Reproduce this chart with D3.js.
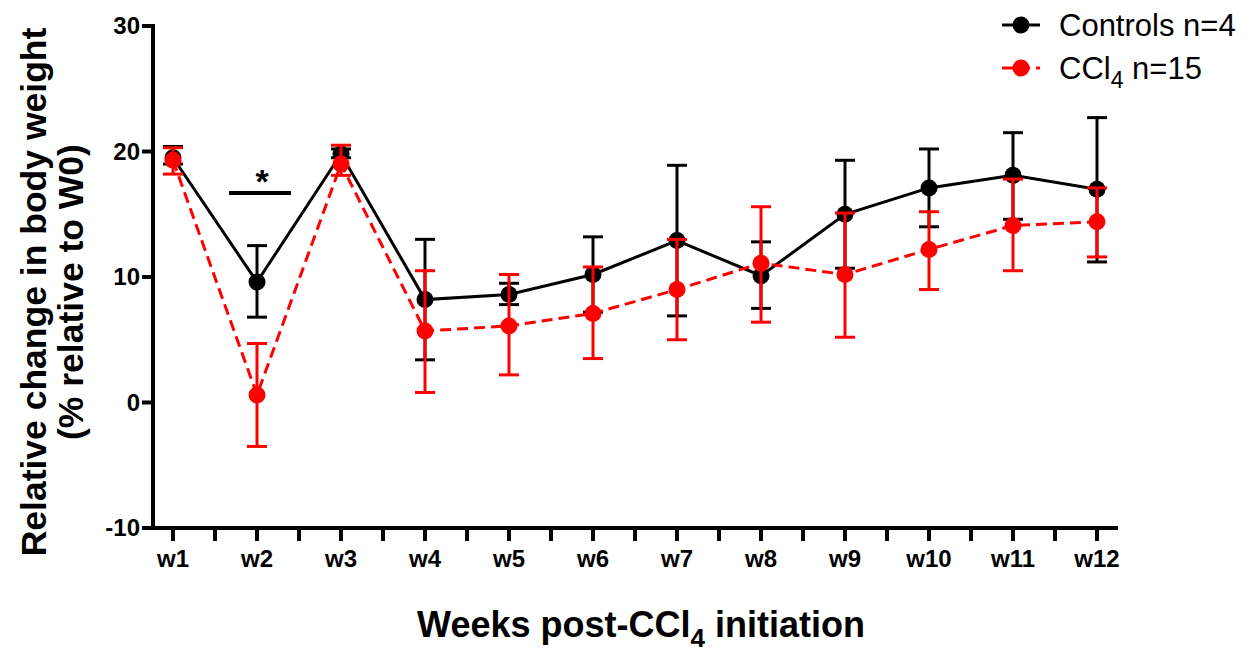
<!DOCTYPE html>
<html>
<head>
<meta charset="utf-8">
<script src="https://cdn.jsdelivr.net/npm/d3@7"></script>
<style>
  body { margin: 0; background: #fff; }
  text { font-family: "Liberation Sans", Arial, sans-serif; }
</style>
</head>
<body>
<div id="chart"></div>
<script>
const weeks = ["w1", "w2", "w3", "w4", "w5", "w6", "w7", "w8", "w9", "w10", "w11", "w12"];

// Controls n=4: mean, upper cap, lower cap
const ctrlMean = [19.5, 9.6, 19.8, 8.2, 8.6, 10.2, 12.9, 10.1, 15.0, 17.1, 18.1, 17.0];
const ctrlHigh = [20.4, 12.5, 20.2, 13.0, 9.5, 13.2, 18.9, 12.8, 19.3, 20.2, 21.5, 22.7];
const ctrlLow  = [19.0, 6.8, 19.5, 3.4, 7.8, 7.2, 6.9, 7.5, 10.7, 14.0, 14.6, 11.2];

// CCl4 n=15
const cclMean = [19.3, 0.6, 19.0, 5.7, 6.1, 7.1, 9.0, 11.1, 10.2, 12.2, 14.1, 14.4];
const cclHigh = [20.3, 4.7, 20.5, 10.5, 10.2, 10.8, 13.0, 15.6, 15.1, 15.2, 17.8, 17.1];
const cclLow  = [18.2, -3.5, 18.1, 0.8, 2.2, 3.5, 5.0, 6.4, 5.2, 9.0, 10.5, 11.6];

const yTicks = [-10, 0, 10, 20, 30];

const W = 1254, H = 654;
const svg = d3.select("#chart").append("svg")
  .attr("width", W)
  .attr("height", H);

const x = d3.scalePoint().domain(weeks).range([173, 1097]);
const y = d3.scaleLinear().domain([-10, 30]).range([528, 26]);
const x0 = 153, x1 = 1118;

const series = [
  { name: "ctrl", color: "#000", dash: null, mean: ctrlMean, hi: ctrlHigh, lo: ctrlLow },
  { name: "ccl", color: "#ff0000", dash: "11,6", mean: cclMean, hi: cclHigh, lo: cclLow }
];

// axes
const axisG = svg.append("g");
axisG.append("line")
  .attr("x1", x0).attr("x2", x0).attr("y1", y(30) - 2).attr("y2", y(-10) + 2)
  .attr("stroke", "#000").attr("stroke-width", 4);
axisG.append("line")
  .attr("x1", x0 - 2).attr("x2", x1).attr("y1", y(-10)).attr("y2", y(-10))
  .attr("stroke", "#000").attr("stroke-width", 4);

axisG.selectAll(".ytick").data(yTicks).enter().append("line")
  .attr("x1", x0 - 11).attr("x2", x0)
  .attr("y1", d => y(d)).attr("y2", d => y(d))
  .attr("stroke", "#000").attr("stroke-width", 4);
axisG.selectAll(".ylab").data(yTicks).enter().append("text")
  .attr("x", x0 - 13).attr("y", d => y(d) + 8)
  .attr("text-anchor", "end")
  .attr("font-size", 24).attr("font-weight", "bold")
  .text(d => d);

// x ticks: major at weeks, minor halfway between
const step = x.step();
const minor = weeks.slice(1).map(w => x(w) - step / 2);
axisG.selectAll(".xtick").data(weeks).enter().append("line")
  .attr("x1", d => x(d)).attr("x2", d => x(d))
  .attr("y1", y(-10)).attr("y2", y(-10) + 13)
  .attr("stroke", "#000").attr("stroke-width", 4);
axisG.selectAll(".xminor").data(minor).enter().append("line")
  .attr("x1", d => d).attr("x2", d => d)
  .attr("y1", y(-10)).attr("y2", y(-10) + 13)
  .attr("stroke", "#000").attr("stroke-width", 4);
axisG.selectAll(".xlab").data(weeks).enter().append("text")
  .attr("x", d => x(d)).attr("y", y(-10) + 39)
  .attr("text-anchor", "middle")
  .attr("font-size", 24).attr("font-weight", "bold")
  .text(d => d);

// axis titles
const yt = svg.append("text")
  .attr("transform", "translate(46,292) rotate(-90)")
  .attr("text-anchor", "middle")
  .attr("font-size", 35.5).attr("font-weight", "bold");
yt.append("tspan").attr("x", 0).attr("dy", 0).text("Relative change in body weight");
yt.append("tspan").attr("x", 0).attr("dy", 37).text("(% relative to W0)");

const xt = svg.append("text")
  .attr("x", 641).attr("y", 637)
  .attr("text-anchor", "middle")
  .attr("font-size", 36).attr("font-weight", "bold");
xt.append("tspan").text("Weeks post-CCl");
xt.append("tspan").attr("dy", 10).attr("font-size", 26).text("4");
xt.append("tspan").attr("dy", -10).text(" initiation");

// lines, error bars, points
const line = d3.line().x((d, i) => x(weeks[i])).y(d => y(d));
const capW = 10;

series.forEach(s => {
  const g = svg.append("g");
  g.append("path")
    .datum(s.mean)
    .attr("d", line)
    .attr("fill", "none")
    .attr("stroke", s.color)
    .attr("stroke-width", 3)
    .attr("stroke-dasharray", s.dash);

  const eb = g.selectAll(".eb").data(weeks).enter().append("g");
  eb.append("line")
    .attr("x1", d => x(d)).attr("x2", d => x(d))
    .attr("y1", (d, i) => y(s.hi[i])).attr("y2", (d, i) => y(s.lo[i]))
    .attr("stroke", s.color).attr("stroke-width", 3);
  eb.append("line")
    .attr("x1", d => x(d) - capW).attr("x2", d => x(d) + capW)
    .attr("y1", (d, i) => y(s.hi[i])).attr("y2", (d, i) => y(s.hi[i]))
    .attr("stroke", s.color).attr("stroke-width", 3);
  eb.append("line")
    .attr("x1", d => x(d) - capW).attr("x2", d => x(d) + capW)
    .attr("y1", (d, i) => y(s.lo[i])).attr("y2", (d, i) => y(s.lo[i]))
    .attr("stroke", s.color).attr("stroke-width", 3);

  g.selectAll("circle").data(s.mean).enter().append("circle")
    .attr("cx", (d, i) => x(weeks[i]))
    .attr("cy", d => y(d))
    .attr("r", 8.5)
    .attr("fill", s.color);
});

// significance marker at w2
const sigX = x("w2");
svg.append("line")
  .attr("x1", sigX - 28).attr("x2", sigX + 34)
  .attr("y1", 193).attr("y2", 193)
  .attr("stroke", "#000").attr("stroke-width", 4);
svg.append("text")
  .attr("x", sigX + 5).attr("y", 193)
  .attr("text-anchor", "middle")
  .attr("font-size", 34).attr("font-weight", "bold")
  .text("*");

// legend
const legend = svg.append("g");
const legItems = [
  { color: "#000", dash: null, label: "Controls n=4", sub: null, y: 25 },
  { color: "#ff0000", dash: "11,6", label: "CCl", sub: "4", rest: " n=15", y: 68 }
];
legItems.forEach(it => {
  legend.append("line")
    .attr("x1", 1002).attr("x2", 1040)
    .attr("y1", it.y).attr("y2", it.y)
    .attr("stroke", it.color).attr("stroke-width", 3)
    .attr("stroke-dasharray", it.dash);
  legend.append("circle")
    .attr("cx", 1021).attr("cy", it.y).attr("r", 8.5).attr("fill", it.color);
  const t = legend.append("text")
    .attr("x", 1059).attr("y", it.y + 11)
    .attr("font-size", 31);
  t.append("tspan").text(it.label);
  if (it.sub) {
    t.append("tspan").attr("dy", 9).attr("font-size", 23).text(it.sub);
    t.append("tspan").attr("dy", -9).text(it.rest);
  }
});
</script>
</body>
</html>
